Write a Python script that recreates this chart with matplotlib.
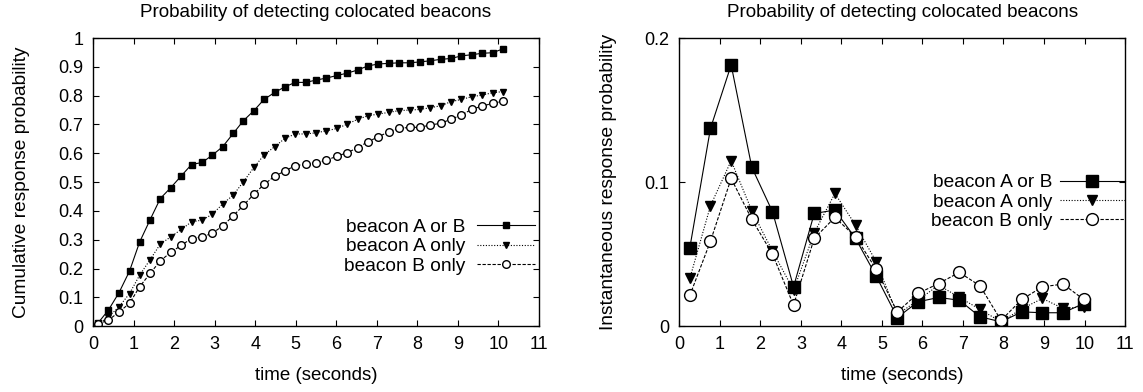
import matplotlib
matplotlib.use('Agg')
import matplotlib.pyplot as plt

plt.rcParams['font.family'] = ['Liberation Sans', 'DejaVu Sans']

# cumulative curves, sampled every 0.256 s
t_cum = [0.13, 0.38, 0.64, 0.90, 1.15, 1.41, 1.66, 1.92, 2.18, 2.43,
         2.69, 2.94, 3.20, 3.46, 3.71, 3.97, 4.22, 4.48, 4.74, 4.99,
         5.25, 5.50, 5.76, 6.02, 6.27, 6.53, 6.78, 7.04, 7.30, 7.55,
         7.81, 8.06, 8.32, 8.58, 8.83, 9.09, 9.34, 9.60, 9.86, 10.11]
cum_ab = [0.012, 0.056, 0.116, 0.191, 0.292, 0.370, 0.443, 0.481, 0.522, 0.561,
          0.568, 0.593, 0.623, 0.669, 0.713, 0.748, 0.787, 0.811, 0.831, 0.846,
          0.846, 0.854, 0.861, 0.870, 0.878, 0.889, 0.903, 0.910, 0.912, 0.914,
          0.914, 0.917, 0.921, 0.926, 0.929, 0.938, 0.942, 0.947, 0.949, 0.962]
cum_a = [0.008, 0.032, 0.067, 0.113, 0.177, 0.231, 0.285, 0.310, 0.336, 0.362,
         0.368, 0.388, 0.424, 0.455, 0.501, 0.551, 0.594, 0.623, 0.652, 0.667,
         0.667, 0.671, 0.678, 0.686, 0.701, 0.718, 0.730, 0.736, 0.742, 0.748,
         0.750, 0.752, 0.758, 0.765, 0.779, 0.787, 0.796, 0.802, 0.810, 0.814]
cum_b = [0.008, 0.021, 0.049, 0.079, 0.137, 0.183, 0.227, 0.256, 0.281, 0.304,
         0.310, 0.322, 0.348, 0.383, 0.419, 0.458, 0.492, 0.520, 0.539, 0.557,
         0.562, 0.567, 0.576, 0.590, 0.602, 0.619, 0.640, 0.657, 0.675, 0.686,
         0.690, 0.690, 0.698, 0.704, 0.718, 0.733, 0.752, 0.764, 0.773, 0.781]

# instantaneous, sampled every 0.512 s
t_inst = [0.26, 0.77, 1.28, 1.79, 2.30, 2.82, 3.33, 3.84, 4.35, 4.86,
          5.38, 5.89, 6.40, 6.91, 7.42, 7.94, 8.45, 8.96, 9.47, 9.98]
inst_ab = [0.0544, 0.1373, 0.1813, 0.1102, 0.0794, 0.0273, 0.0782, 0.0806, 0.0609, 0.0347,
           0.0060, 0.0169, 0.0199, 0.0180, 0.0065, 0.0030, 0.0099, 0.0093, 0.0093, 0.0157]
inst_a = [0.0331, 0.0836, 0.1148, 0.0801, 0.0521, 0.0250, 0.0648, 0.0921, 0.0701, 0.0447,
          0.0080, 0.0180, 0.0285, 0.0200, 0.0116, 0.0030, 0.0120, 0.0192, 0.0123, 0.0134]
inst_b = [0.0213, 0.0590, 0.1025, 0.0741, 0.0500, 0.0146, 0.0609, 0.0755, 0.0620, 0.0394,
          0.0099, 0.0227, 0.0296, 0.0373, 0.0280, 0.0040, 0.0185, 0.0273, 0.0292, 0.0185]

labels = ['beacon A or B', 'beacon A only', 'beacon B only']
title = 'Probability of detecting colocated beacons'

fig = plt.figure(figsize=(11.43, 3.92), dpi=100)
ax1 = fig.add_axes([0.0814, 0.168, 0.390, 0.735])
ax2 = fig.add_axes([0.5943, 0.168, 0.390, 0.735])


def draw(ax, t, ys, msizes, lw=0.8):
    sq, tri, circ = msizes
    ax.plot(t, ys[0], 'k-', marker='s', ms=sq, lw=lw, label=labels[0])
    ax.plot(t, ys[1], 'k', ls=(0, (1, 1.5)), marker='v', ms=tri, lw=lw, label=labels[1])
    ax.plot(t, ys[2], 'k', ls=(0, (3, 1.5)), marker='o', ms=circ, mfc='white', lw=lw, label=labels[2])
    ax.set_xlim(0, 11)
    ax.set_xticks(range(0, 12))
    ax.tick_params(direction='in', top=True, right=True, length=4.5, labelsize=13, pad=7)
    ax.set_xlabel('time (seconds)', fontsize=13.5, labelpad=10)
    ax.set_title(title, fontsize=13.6, pad=15)
    for s in ax.spines.values():
        s.set_linewidth(1.0)


draw(ax1, t_cum, [cum_ab, cum_a, cum_b], (5, 4.5, 5.5))
ax1.set_ylim(0, 1)
ax1.set_yticks([i / 10 for i in range(11)])
ax1.set_yticklabels(['0'] + ['0.%d' % i for i in range(1, 10)] + ['1'])
ax1.set_ylabel('Cumulative response probability', fontsize=13.8, labelpad=20)
ax1.legend(loc='upper right', bbox_to_anchor=(0.991, 0.375), frameon=False, markerfirst=False,
           fontsize=13.8, handlelength=3.0, handletextpad=0.6, labelspacing=0.12,
           borderpad=0, borderaxespad=0)

draw(ax2, t_inst, [inst_ab, inst_a, inst_b], (9, 7, 8.5))
ax2.set_ylim(0, 0.2)
ax2.set_yticks([0, 0.1, 0.2])
ax2.set_yticklabels(['0', '0.1', '0.2'])
ax2.set_ylabel('Instantaneous response probability', fontsize=13.8, labelpad=20)
ax2.legend(loc='upper right', bbox_to_anchor=(1.0, 0.528), frameon=False, markerfirst=False,
           fontsize=13.8, handlelength=3.4, handletextpad=0.4, labelspacing=0.1,
           borderpad=0, borderaxespad=0)

fig.savefig('out.png', dpi=100)
